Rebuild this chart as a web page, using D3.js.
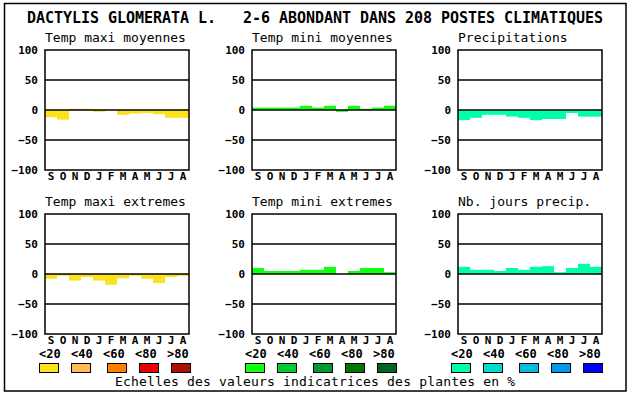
<!DOCTYPE html>
<html>
<head>
<meta charset="utf-8">
<script src="https://cdn.jsdelivr.net/npm/d3@7"></script>
<style>
  body { margin: 0; background: #fff; }
  svg { display: block; font-family: "DejaVu Sans Mono", monospace; }
  text { white-space: pre; }
</style>
</head>
<body>
<svg id="chart" width="630" height="394"></svg>
<script>
const titre = 'DACTYLIS GLOMERATA L.   2-6 ABONDANT DANS 208 POSTES CLIMATIQUES';
const months = ['S', 'O', 'N', 'D', 'J', 'F', 'M', 'A', 'M', 'J', 'J', 'A'];
const panelTitles = ['Temp maxi moyennes', 'Temp mini moyennes', 'Precipitations',
                     'Temp maxi extremes', 'Temp mini extremes', 'Nb. jours precip.'];

// valeurs, de septembre a aout
const tempMaxiMoy = [-12, -16, 2, 2, -3, 0, -8, -6, -5, -7, -13, -13];
const tempMiniMoy = [4, 4, 4, 4, 7, 4, 7, -3, 7, 2, 4, 7];
const precip      = [-17, -13, -8, -8, -11, -13, -17, -15, -15, -5, -11, -11];
const tempMaxiExt = [-8, -3, -11, -5, -11, -18, -7, -3, -8, -15, -5, -3];
const tempMiniExt = [10, 5, 5, 5, 7, 7, 12, 0, 5, 10, 10, 3];
const joursPrecip = [12, 7, 7, 5, 10, 7, 12, 13, 3, 10, 17, 12];

const yTicks = [100, 50, 0, -50, -100];
const gridValues = [50, 0, -50];
const classes = ['<20', '<40', '<60', '<80', '>80'];
const jaunes = ['#fbe11e', '#ffbb55', '#ff7f00', '#ee0000', '#aa1100'];
const verts  = ['#11ff11', '#00cc33', '#009933', '#007700', '#006622'];
const bleus  = ['#00ffaa', '#00ddcc', '#00bbdd', '#0099ee', '#0000ff'];
const legende = 'Echelles des valeurs indicatrices des plantes en %';

const series = [tempMaxiMoy, tempMiniMoy, precip, tempMaxiExt, tempMiniExt, joursPrecip];
const palettes = [jaunes, verts, bleus];

const svg = d3.select('#chart');
const W = 144, H = 120;
const lefts = [45, 252, 458];
const tops = [50, 214];

// cadre general
svg.append('rect')
  .attr('x', 4.5).attr('y', 3.5)
  .attr('width', 621.5).attr('height', 387.5)
  .attr('fill', 'none').attr('stroke', '#000').attr('stroke-width', 1.5);

svg.append('text')
  .attr('x', 27).attr('y', 23)
  .attr('font-size', 15).attr('font-weight', 'bold')
  .attr('xml:space', 'preserve')
  .attr('textLength', 576).attr('lengthAdjust', 'spacing')
  .text(titre);

const x = d3.scaleBand().domain(d3.range(12)).range([0, W]).padding(0);
const y = d3.scaleLinear().domain([-100, 100]).range([H, 0]);

series.forEach((values, i) => {
  const col = i % 3, row = Math.floor(i / 3);
  const g = svg.append('g')
    .attr('transform', `translate(${lefts[col]},${tops[row]})`);

  g.append('text')
    .attr('x', 0).attr('y', -8)
    .attr('font-size', 13)
    .text(panelTitles[i]);

  g.selectAll('rect.bar')
    .data(values).enter()
    .append('rect')
    .attr('class', 'bar')
    .attr('x', (d, j) => x(j))
    .attr('width', x.bandwidth())
    .attr('y', d => y(Math.max(0, d)))
    .attr('height', d => Math.abs(y(d) - y(0)))
    .attr('fill', palettes[col][0]);

  g.selectAll('line.grid')
    .data(gridValues).enter()
    .append('line')
    .attr('class', 'grid')
    .attr('x1', 0).attr('x2', W)
    .attr('y1', d => y(d)).attr('y2', d => y(d))
    .attr('stroke', '#000').attr('stroke-width', 1.5);

  g.append('rect')
    .attr('width', W).attr('height', H)
    .attr('fill', 'none').attr('stroke', '#000').attr('stroke-width', 1.5);

  const yAxis = g.append('g')
    .attr('transform', 'translate(-7,0)')
    .call(d3.axisLeft(y).tickValues(yTicks).tickSize(0).tickPadding(0));
  yAxis.select('.domain').remove();
  yAxis.selectAll('text')
    .attr('font-family', '"DejaVu Sans Mono", monospace')
    .attr('font-size', 11).attr('font-weight', 'bold').attr('fill', '#000');

  const xAxis = g.append('g')
    .attr('transform', `translate(0,${H})`)
    .call(d3.axisBottom(x).tickFormat(j => months[j]).tickSize(0).tickPadding(2));
  xAxis.select('.domain').remove();
  xAxis.selectAll('text')
    .attr('font-family', '"DejaVu Sans Mono", monospace')
    .attr('font-size', 11).attr('font-weight', 'bold').attr('fill', '#000');
});

// echelles de couleurs
const groupX = [39, 245, 451];
const boxOffsets = [0, 32, 68, 100, 132];
palettes.forEach((pal, k) => {
  const g = svg.append('g').attr('transform', `translate(${groupX[k]},0)`);
  g.selectAll('text')
    .data(classes).enter()
    .append('text')
    .attr('x', (d, j) => j * 32)
    .attr('y', 358)
    .attr('font-size', 12).attr('font-weight', 'bold')
    .text(d => d);
  g.selectAll('rect')
    .data(pal).enter()
    .append('rect')
    .attr('x', (d, j) => boxOffsets[j] + 0.5)
    .attr('y', 363.5)
    .attr('width', 19).attr('height', 9)
    .attr('fill', d => d)
    .attr('stroke', '#000').attr('stroke-width', 1);
});

svg.append('text')
  .attr('x', 115).attr('y', 386)
  .attr('font-size', 13)
  .attr('textLength', 400).attr('lengthAdjust', 'spacing')
  .text(legende);
</script>
</body>
</html>
